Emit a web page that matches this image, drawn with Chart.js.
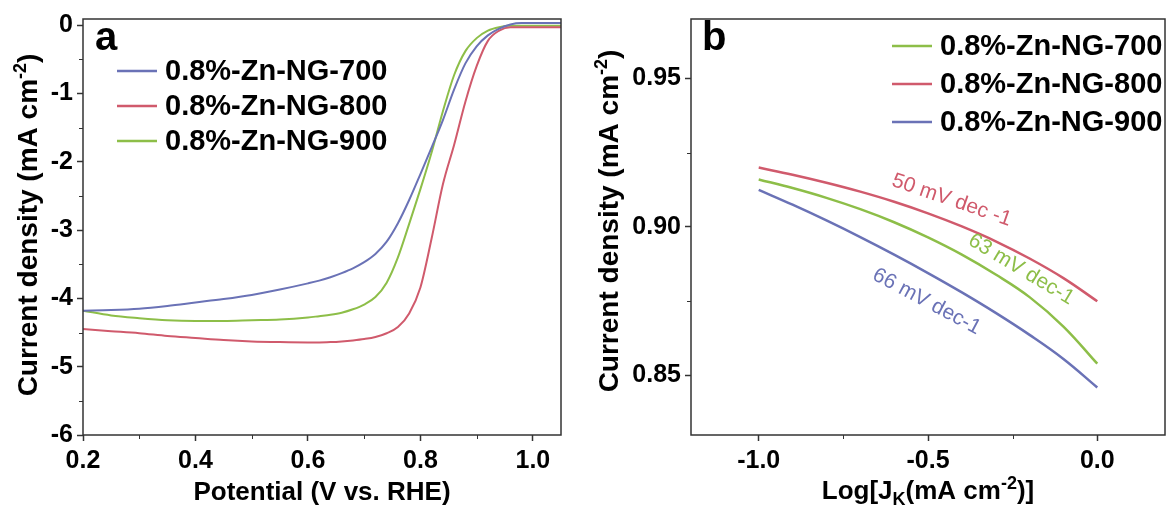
<!DOCTYPE html>
<html>
<head>
<meta charset="utf-8">
<script src="https://cdn.jsdelivr.net/npm/chart.js@4.4.1/dist/chart.umd.min.js"></script>
<style>
    html, body { margin: 0; padding: 0; background: #fff; }
    #wrap { position: relative; width: 1172px; height: 510px; }
    .panel { position: absolute; top: 0; width: 586px; height: 510px; }
</style>
</head>
<body>
<div id="wrap">
    <div class="panel" style="left:0"><canvas id="lsvChart" width="586" height="510"></canvas></div>
    <div class="panel" style="left:586px"><canvas id="tafelChart" width="586" height="510"></canvas></div>
</div>
<script>
// ---- Panel a: LSV curves ----
const potential = [0.20, 0.25, 0.30, 0.35, 0.40, 0.45, 0.50, 0.55, 0.60, 0.62, 0.64, 0.66, 0.68, 0.70, 0.72,
    0.74, 0.76, 0.78, 0.80, 0.82, 0.84, 0.86, 0.88, 0.90, 0.92, 0.94, 0.96, 0.98, 1.00, 1.05];
const lsv700 = [-4.18, -4.17, -4.15, -4.11, -4.06, -4.01, -3.95, -3.87, -3.78, -3.74, -3.69, -3.63, -3.56, -3.47, -3.35,
    -3.17, -2.90, -2.56, -2.18, -1.79, -1.39, -0.94, -0.56, -0.31, -0.15, -0.05, 0.01, 0.03, 0.03, 0.03];
const lsv800 = [-4.45, -4.48, -4.51, -4.55, -4.58, -4.61, -4.63, -4.64, -4.645, -4.645, -4.64, -4.63, -4.615, -4.595, -4.565,
    -4.51, -4.42, -4.22, -3.84, -3.12, -2.33, -1.75, -1.12, -0.60, -0.23, -0.08, -0.03, -0.03, -0.03, -0.03];
const lsv900 = [-4.18, -4.25, -4.29, -4.32, -4.33, -4.33, -4.32, -4.31, -4.28, -4.26, -4.24, -4.21, -4.16, -4.09, -3.98,
    -3.77, -3.40, -2.91, -2.40, -1.86, -1.26, -0.73, -0.38, -0.19, -0.08, -0.03, -0.01, -0.01, -0.01, -0.01];
const lsvXTicks = [0.2, 0.4, 0.6, 0.8, 1.0];
const lsvXMinor = [0.3, 0.5, 0.7, 0.9];
const lsvYTicks = [0, -1, -2, -3, -4, -5, -6];
const lsvYMinor = [-0.5, -1.5, -2.5, -3.5, -4.5, -5.5];

// ---- Panel b: Tafel plots ----
const logJk = [-1.0, -0.9, -0.8, -0.7, -0.6, -0.5, -0.4, -0.3, -0.2, -0.1, 0.0];
const tafel700 = [0.916, 0.9131, 0.9098, 0.9060, 0.9016, 0.8965, 0.8907, 0.8840, 0.8764, 0.8665, 0.8540];
const tafel800 = [0.920, 0.9176, 0.9149, 0.9119, 0.9085, 0.9046, 0.9002, 0.8952, 0.8894, 0.8828, 0.8750];
const tafel900 = [0.9125, 0.9075, 0.9022, 0.8966, 0.8907, 0.8845, 0.8780, 0.8711, 0.8637, 0.8556, 0.8460];
const tafelXTicks = [-1.0, -0.5, 0.0];
const tafelXMinor = [-0.75, -0.25];
const tafelYTicks = [0.85, 0.90, 0.95];
const tafelYMinor = [0.875, 0.925];
const slopeLabels = ['50 mV dec -1', '63 mV dec-1', '66 mV dec-1'];
// where the slope labels sit, in data units, and their tilt
const slopeAt = [[-0.43, 0.909], [-0.225, 0.8857], [-0.504, 0.8749]];
const slopeTilt = [19, 31, 28];

const seriesNames = ['0.8%-Zn-NG-700', '0.8%-Zn-NG-800', '0.8%-Zn-NG-900'];
const BLUE = '#6a72b6';
const RED = '#d05a6c';
const GREEN = '#8dbe48';
const FONT = '"Liberation Sans", Arial, Helvetica, sans-serif';

function pts(xs, ys) {
    return xs.map((x, i) => ({ x: x, y: ys[i] }));
}

// draw a run of text pieces (for sub/superscripts) centred on cx
function drawRich(ctx, parts, cx, baseY) {
    let total = 0;
    parts.forEach(p => {
        ctx.font = `bold ${p.size}px ${FONT}`;
        p.w = ctx.measureText(p.text).width;
        total += p.w;
    });
    let x = cx - total / 2;
    parts.forEach(p => {
        ctx.font = `bold ${p.size}px ${FONT}`;
        ctx.fillText(p.text, x, baseY + (p.dy || 0));
        x += p.w;
    });
}

// frame, minor ticks, panel letter, legend and axis titles
const framePlugin = {
    id: 'frame',
    afterDraw(chart, args, opts) {
        const { ctx, chartArea: a, scales } = chart;
        ctx.save();
        ctx.strokeStyle = '#333';
        ctx.lineWidth = 1.5;
        ctx.strokeRect(a.left, a.top, a.right - a.left, a.bottom - a.top);

        ctx.lineWidth = 1;
        opts.minorX.forEach(v => {
            const x = Math.round(scales.x.getPixelForValue(v)) + 0.5;
            ctx.beginPath(); ctx.moveTo(x, a.bottom); ctx.lineTo(x, a.bottom + 4); ctx.stroke();
        });
        opts.minorY.forEach(v => {
            const y = Math.round(scales.y.getPixelForValue(v)) + 0.5;
            ctx.beginPath(); ctx.moveTo(a.left, y); ctx.lineTo(a.left - 4, y); ctx.stroke();
        });

        ctx.fillStyle = '#000';
        ctx.textBaseline = 'alphabetic';
        ctx.textAlign = 'left';
        ctx.font = `bold 40px ${FONT}`;
        ctx.fillText(opts.letter, opts.letterX, opts.letterY);

        // legend
        ctx.font = `bold 29px ${FONT}`;
        chart.data.datasets.forEach((ds, i) => {
            const y = opts.legendY + i * opts.legendGap;
            ctx.strokeStyle = ds.borderColor;
            ctx.lineWidth = 2.5;
            ctx.beginPath();
            ctx.moveTo(opts.legendX, y);
            ctx.lineTo(opts.legendX + 40, y);
            ctx.stroke();
            ctx.fillStyle = '#000';
            ctx.textBaseline = 'middle';
            ctx.fillText(ds.label, opts.legendX + 48, y + 1);
        });

        // axis titles
        ctx.textBaseline = 'alphabetic';
        ctx.fillStyle = '#000';
        drawRich(ctx, opts.xTitle, (a.left + a.right) / 2, opts.xTitleY);
        ctx.translate(opts.yTitleX, (a.top + a.bottom) / 2 + opts.yTitleDy);
        ctx.rotate(-Math.PI / 2);
        drawRich(ctx, opts.yTitle, 0, 0);
        ctx.restore();
    }
};

// rotated slope labels on panel b
const slopePlugin = {
    id: 'slopes',
    afterDraw(chart, args, opts) {
        if (!opts.labels) return;
        const { ctx, scales } = chart;
        ctx.save();
        ctx.font = `21px ${FONT}`;
        ctx.textAlign = 'center';
        ctx.textBaseline = 'middle';
        opts.labels.forEach((t, i) => {
            const x = scales.x.getPixelForValue(opts.at[i][0]);
            const y = scales.y.getPixelForValue(opts.at[i][1]);
            ctx.save();
            ctx.translate(x, y);
            ctx.rotate(opts.tilt[i] * Math.PI / 180);
            ctx.fillStyle = opts.colors[i];
            ctx.fillText(t, 0, 0);
            ctx.restore();
        });
        ctx.restore();
    }
};

const tickFont = { family: FONT, size: 25, weight: 'bold' };
const yTitleParts = [
    { text: 'Current density (mA cm', size: 28 },
    { text: '-2', size: 18, dy: -11 },
    { text: ')', size: 28 }
];

function axis(min, max, ticks, fmt, isX, fixedSize) {
    return {
        type: 'linear',
        min: min,
        max: max,
        afterBuildTicks: s => { s.ticks = ticks.map(v => ({ value: v })); },
        afterFit: s => { if (isX) s.height = fixedSize; else s.width = fixedSize; },
        ticks: {
            callback: fmt,
            font: tickFont,
            color: '#000',
            padding: isX ? 5 : 4,
            autoSkip: false,
            maxRotation: 0
        },
        grid: { drawOnChartArea: false, tickLength: 6, tickColor: '#333', tickWidth: 1.5 },
        border: { display: false }
    };
}

function lineSet(label, xs, ys, color, width, smooth) {
    const ds = {
        label: label,
        data: pts(xs, ys),
        borderColor: color,
        borderWidth: width,
        pointRadius: 0,
        fill: false
    };
    if (smooth) {
        ds.tension = 0.4;
    } else {
        ds.cubicInterpolationMode = 'monotone';
    }
    return ds;
}

const baseOptions = {
    responsive: false,
    animation: false,
    events: [],
    plugins: { legend: { display: false }, tooltip: { enabled: false } }
};

new Chart(document.getElementById('lsvChart'), {
    type: 'line',
    data: {
        datasets: [
            lineSet(seriesNames[0], potential, lsv700, BLUE, 2),
            lineSet(seriesNames[1], potential, lsv800, RED, 2),
            lineSet(seriesNames[2], potential, lsv900, GREEN, 2)
        ]
    },
    options: {
        ...baseOptions,
        layout: { padding: { top: 18, right: 25, left: 0, bottom: 0 } },
        scales: {
            x: axis(0.2, 1.05, lsvXTicks, v => v.toFixed(1), true, 75),
            y: axis(-6, 0.09, lsvYTicks, v => String(v), false, 83)
        },
        plugins: {
            ...baseOptions.plugins,
            frame: {
                minorX: lsvXMinor, minorY: lsvYMinor,
                letter: 'a', letterX: 95, letterY: 50,
                legendX: 117, legendY: 71, legendGap: 35,
                xTitle: [{ text: 'Potential (V vs. RHE)', size: 26 }], xTitleY: 500,
                yTitle: yTitleParts, yTitleX: 37, yTitleDy: -2
            }
        }
    },
    plugins: [framePlugin]
});

new Chart(document.getElementById('tafelChart'), {
    type: 'line',
    data: {
        datasets: [
            lineSet(seriesNames[0], logJk, tafel700, GREEN, 2.5, true),
            lineSet(seriesNames[1], logJk, tafel800, RED, 2.5, true),
            lineSet(seriesNames[2], logJk, tafel900, BLUE, 2.5, true)
        ]
    },
    options: {
        ...baseOptions,
        layout: { padding: { top: 19, right: 7, left: 0, bottom: 0 } },
        scales: {
            x: axis(-1.2, 0.2, tafelXTicks, v => v.toFixed(1), true, 75),
            y: axis(0.83, 0.97, tafelYTicks, v => v.toFixed(2), false, 105)
        },
        plugins: {
            ...baseOptions.plugins,
            frame: {
                minorX: tafelXMinor, minorY: tafelYMinor,
                letter: 'b', letterX: 116, letterY: 50,
                legendX: 306, legendY: 46, legendGap: 38,
                xTitle: [
                    { text: 'Log[J', size: 26 },
                    { text: 'K', size: 18, dy: 6 },
                    { text: '(mA cm', size: 26 },
                    { text: '-2', size: 18, dy: -10 },
                    { text: ')]', size: 26 }
                ],
                xTitleY: 499,
                yTitle: yTitleParts, yTitleX: 32, yTitleDy: -6
            },
            slopes: { labels: slopeLabels, at: slopeAt, tilt: slopeTilt, colors: [RED, GREEN, BLUE] }
        }
    },
    plugins: [framePlugin, slopePlugin]
});
</script>
</body>
</html>
